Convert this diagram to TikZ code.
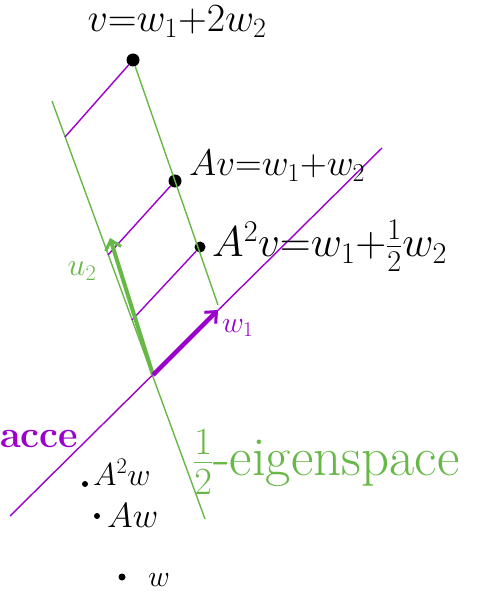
\RequirePackage{fix-cm}
\documentclass[tikz,border=0pt]{standalone}
\usepackage{amsmath}
\usepackage{fontspec}
\usetikzlibrary{arrows.meta}
\definecolor{egreen}{RGB}{104,184,72}
\definecolor{epurple}{RGB}{155,0,205}
\begin{document}
\begin{tikzpicture}[x=1pt,y=-1pt,
  gline/.style={draw=egreen, line width=1.4pt},
  pline/.style={draw=epurple, line width=1.4pt},
  dot/.style={circle, fill=black, inner sep=0pt, minimum size=#1},
  lab/.style={inner sep=0pt, font=\fontsize{#1}{#1}\selectfont},
  barb/.style={-{Straight Barb[length=9pt,width=16pt,line width=3pt]}}
]
\useasboundingbox (0,0) rectangle (482,601);
% points
\coordinate (O) at (153,375);
\coordinate (L1a) at (52,101);
\coordinate (L1b) at (205,519);
\coordinate (R2b) at (218,305);
\coordinate (P1) at (10,516);
\coordinate (P2) at (382,148);
\coordinate (Q1) at (65,137);
\coordinate (Q2) at (108,255);
\coordinate (Q3) at (132,320);
\coordinate (U2) at (110,238);
\coordinate (W1) at (218,310);
\node[dot=13pt] (v) at (133,60) {};
\node[dot=13pt] (Av) at (175,181) {};
\node[dot=11pt] (A2v) at (200,247) {};
% lines
\draw[gline] (L1a) -- (L1b);
\draw[gline] (v) -- (R2b);
\draw[pline] (P1) -- (P2);
\draw[pline] (v) -- (Q1);
\draw[pline] (Av) -- (Q2);
\draw[pline] (A2v) -- (Q3);
% eigenvectors
\draw[draw=egreen, line width=4pt, barb] (O) -- (U2);
\draw[draw=epurple, line width=4.5pt, barb] (O) -- (W1);
% labels
\node[lab=40] (tv) at (177,22) {$v{=}w_1{+}2w_2$};
\node[lab=37, anchor=west] (tAv) at (189,166) {$Av{=}w_1{+}w_2$};
\node[lab=43, anchor=west] (tA2v) at (212,246) {$A^2v{=}w_1{+}\tfrac{1}{2}w_2$};
\node[lab=30, text=epurple, anchor=west] (tw1) at (222,328) {$w_1$};
\node[lab=32, text=egreen] (tu2) at (82,271) {$u_2$};
\node[lab=38, text=epurple, anchor=west, font=\fontsize{38}{38}\selectfont\bfseries] (tsp) at (0,439) {acce};
\node[lab=55, text=egreen, anchor=west] (teig) at (193,462) {$\tfrac{1}{2}$-eigenspace};
% iterates of w
\node[dot=6pt] (dA2w) at (85,484) {};
\node[lab=32, anchor=west] (tA2w) at (93,472) {$A^2w$};
\node[dot=6pt] (dAw) at (97,516) {};
\node[lab=35, anchor=west] (tAw) at (107,516) {$Aw$};
\node[dot=7pt] (dw) at (122,577) {};
\node[lab=30, anchor=west] (tw) at (148,580) {$w$};
\end{tikzpicture}
\end{document}
